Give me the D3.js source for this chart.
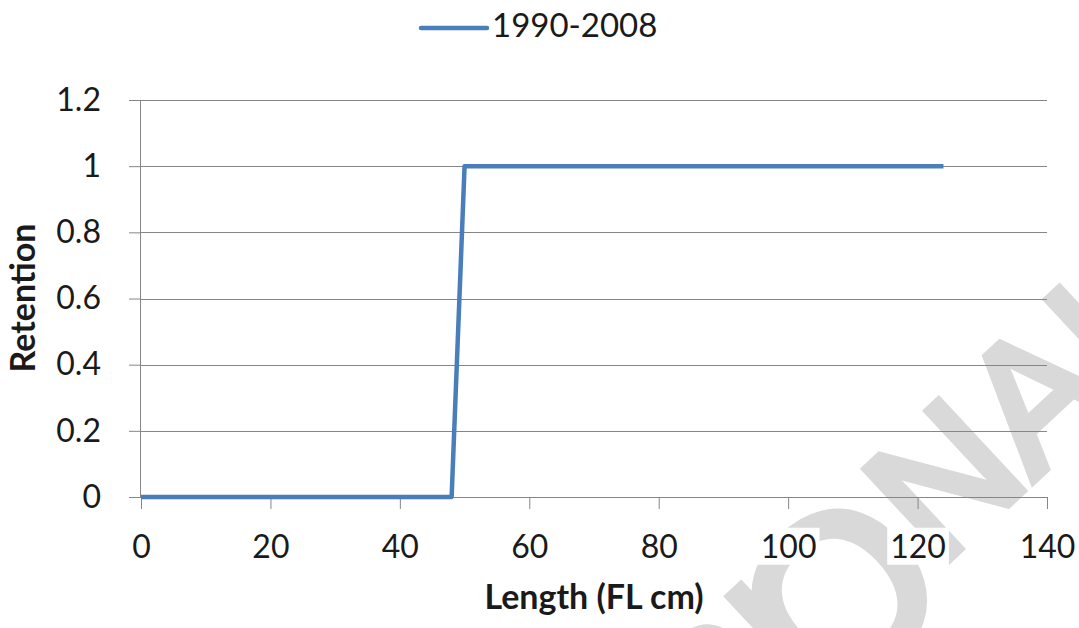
<!DOCTYPE html>
<html>
<head>
<meta charset="utf-8">
<script src="https://cdn.jsdelivr.net/npm/d3@7"></script>
<style>
  html, body { margin: 0; padding: 0; background: #fff; }
  svg { display: block; }
  text { font-family: Lato, "Open Sans", sans-serif; fill: #1a1a1a; }
</style>
</head>
<body>
<div id="chart"></div>
<script>
// series
const seriesName = '1990-2008';
const lengths = [0, 48, 50, 124];
const retention = [0, 0, 1, 1];

const xTicks = [0, 20, 40, 60, 80, 100, 120, 140];
const yTicks = [0, 0.2, 0.4, 0.6, 0.8, 1, 1.2];

const W = 1079, H = 628;
const margin = { top: 100, right: 32, bottom: 131, left: 141 };
const width = W - margin.left - margin.right,
    height = H - margin.top - margin.bottom;

const svg = d3.select('#chart')
    .append('svg')
    .attr('width', W)
    .attr('height', H);

// watermark behind the chart (only "ONA" shows in the picture)
const wm = svg.append('text')
    .attr('transform', 'translate(306,1159) rotate(-43)')
    .style('font-family', '"Liberation Sans", Arial, sans-serif')
    .style('font-size', '179px')
    .style('fill', '#d9d9d9')
    .style('stroke', '#d9d9d9')
    .style('stroke-width', 8)
    .style('stroke-linejoin', 'miter');
wm.append('tspan').text('PROVISI');
wm.append('tspan').attr('dx', -42).attr('dy', 32).style('font-size', '230px').style('stroke-width', 10).text('O');
wm.append('tspan').attr('dx', 2).attr('dy', -32).text('NAL');

const g = svg.append('g')
    .attr('transform', `translate(${margin.left}, ${margin.top})`);

const x = d3.scaleLinear().domain([0, 140]).range([0, width]);
const y = d3.scaleLinear().domain([0, 1.2]).range([height, 0]);

// gridlines
g.append('g')
    .selectAll('line')
    .data(yTicks.filter(d => d > 0))
    .join('line')
    .attr('x1', 0)
    .attr('x2', width)
    .attr('y1', d => Math.round(y(d)) + 0.5)
    .attr('y2', d => Math.round(y(d)) + 0.5)
    .attr('stroke', '#868686')
    .attr('stroke-width', 1);

// y axis
const yAxis = g.append('g')
    .call(d3.axisLeft(y).tickValues(yTicks).tickSize(12).tickPadding(28).tickFormat(d => d3.format('')(d)));
// x axis
const xAxis = g.append('g')
    .attr('transform', `translate(0, ${height})`)
    .call(d3.axisBottom(x).tickValues(xTicks).tickSize(12).tickPadding(26));

[yAxis, xAxis].forEach(a => {
    a.select('.domain').attr('stroke', '#868686');
    a.selectAll('.tick line').attr('stroke', '#868686');
    a.selectAll('.tick text')
        .style('font-size', '32px')
        .style('font-family', 'Lato, sans-serif')
        .attr('fill', '#1a1a1a');
});
xAxis.select('.domain').attr('d', `M0,0.5H${width}`);
yAxis.select('.domain').attr('d', `M-0.5,0V${height}`);

// labels sit in white boxes that hide the watermark
function whiteBox(textSel) {
    textSel.each(function () {
        const b = this.getBBox();
        d3.select(this.parentNode)
            .insert('rect', () => this)
            .attr('x', b.x - 3)
            .attr('y', b.y + 2)
            .attr('width', b.width + 6)
            .attr('height', b.height - 2)
            .attr('fill', '#fff')
            .attr('transform', d3.select(this).attr('transform'));
    });
}
whiteBox(xAxis.selectAll('.tick text'));

// the data line
const line = d3.line()
    .x((d, i) => x(lengths[i]))
    .y(d => y(d));

g.append('path')
    .datum(retention)
    .attr('d', line)
    .attr('fill', 'none')
    .attr('stroke', '#4a7ebb')
    .attr('stroke-width', 4.5)
    .attr('stroke-linejoin', 'round');

// axis titles
const xTitle = svg.append('text')
    .attr('x', margin.left + width / 2)
    .attr('y', 609)
    .attr('text-anchor', 'middle')
    .style('font-size', '34px')
    .style('font-weight', 'bold')
    .text('Length (FL cm)');
whiteBox(xTitle);

svg.append('text')
    .attr('transform', 'translate(35, 298) rotate(-90)')
    .attr('text-anchor', 'middle')
    .style('font-size', '34px')
    .style('font-weight', 'bold')
    .text('Retention');

// legend
const legend = svg.append('g');
legend.append('line')
    .attr('x1', 421).attr('x2', 487)
    .attr('y1', 28).attr('y2', 28)
    .attr('stroke', '#4a7ebb')
    .attr('stroke-width', 4.5)
    .attr('stroke-linecap', 'round');
legend.append('text')
    .attr('x', 492)
    .attr('y', 37)
    .style('font-size', '33px')
    .text(seriesName);
</script>
</body>
</html>
